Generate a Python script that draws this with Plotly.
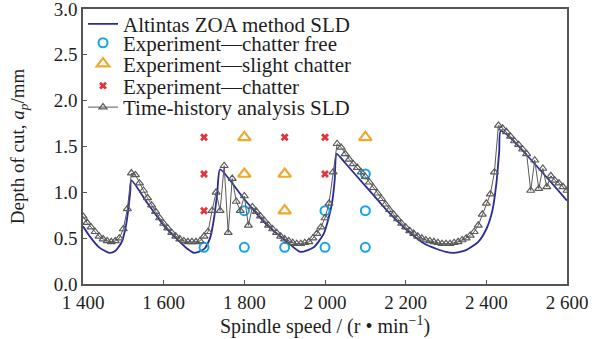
import plotly.graph_objects as go

# ---- data ----
zoa_speed = [1400, 1420, 1440, 1465, 1480, 1495, 1505, 1512, 1517, 1520,
             1560, 1600, 1640, 1660, 1675, 1700, 1715, 1725, 1733, 1740,
             1799, 1857, 1906, 1939, 1972, 1997, 2009, 2018, 2024, 2029,
             2050, 2100, 2150, 2200, 2250, 2300, 2320, 2350, 2380, 2400,
             2415, 2425, 2432, 2436, 2600]
zoa_depth = [0.63, 0.50, 0.40, 0.34, 0.36, 0.45, 0.60, 0.80, 1.00, 1.13,
             0.88, 0.64, 0.46, 0.38, 0.34, 0.38, 0.50, 0.72, 1.00, 1.25,
             0.93, 0.64, 0.46, 0.35, 0.40, 0.55, 0.72, 0.90, 1.13, 1.42,
             1.32, 1.07, 0.82, 0.60, 0.43, 0.35, 0.34, 0.37, 0.46, 0.60,
             0.80, 1.10, 1.45, 1.67, 0.91]

th_speed = list(range(1400, 2601, 10))
th_depth = [0.74, 0.67, 0.62, 0.57, 0.52, 0.49, 0.47, 0.46, 0.47, 0.50,
            0.60, 0.82, 1.21, 1.19, 1.10, 1.02, 0.94, 0.86, 0.79, 0.72,
            0.66, 0.61, 0.56, 0.52, 0.49, 0.47, 0.46, 0.46, 0.46, 0.47,
            0.52, 0.57, 0.80, 1.00, 0.80, 1.29, 0.56, 1.15, 0.90, 0.80,
            0.96, 0.64, 0.84, 0.79, 0.74, 0.69, 0.64, 0.60, 0.56, 0.52,
            0.49, 0.47, 0.45, 0.44, 0.44, 0.45, 0.46, 0.50, 0.55, 0.62,
            0.72, 0.88, 1.22, 1.53, 1.49, 1.42, 1.36, 1.31, 1.27, 1.22,
            1.17, 1.11, 1.05, 0.99, 0.93, 0.87, 0.81, 0.76, 0.71, 0.66,
            0.62, 0.58, 0.55, 0.52, 0.50, 0.48, 0.47, 0.46, 0.45, 0.44,
            0.44, 0.44, 0.45, 0.46, 0.48, 0.50, 0.53, 0.57, 0.64, 0.76,
            0.88, 0.98, 1.22, 1.73, 1.70, 1.66, 1.61, 1.56, 1.52, 1.47,
            1.42, 1.02, 1.35, 1.04, 1.26, 1.06, 1.18, 1.13, 1.10, 1.06,
            1.02]

free_speed = [1700, 1800, 1800, 1900, 2000, 2000, 2100, 2100, 2100]
free_depth = [0.4, 0.4, 0.8, 0.4, 0.4, 0.8, 0.4, 0.8, 1.2]

slight_speed = [1800, 1800, 1900, 1900, 2100]
slight_depth = [1.2, 1.6, 0.8, 1.2, 1.6]

chatter_speed = [1700, 1700, 1700, 1900, 2000, 2000]
chatter_depth = [0.8, 1.2, 1.6, 1.6, 1.2, 1.6]

x_ticks = [1400, 1600, 1800, 2000, 2200, 2400, 2600]
x_tick_labels = ["1 400", "1 600", "1 800", "2 000", "2 200", "2 400", "2 600"]
y_ticks = [0.0, 0.5, 1.0, 1.5, 2.0, 2.5, 3.0]
y_tick_labels = ["0.0", "0.5", "1.0", "1.5", "2.0", "2.5", "3.0"]

FONT = "Liberation Serif"
TXT = "#1e1e1e"

fig = go.Figure()
fig.add_trace(go.Scatter(x=zoa_speed, y=zoa_depth, mode="lines",
                         line=dict(color="#2b2b96", width=1.8, shape="spline", smoothing=0.6),
                         name="Altintas ZOA method SLD", legend="legend", showlegend=True))
fig.add_trace(go.Scatter(x=free_speed, y=free_depth, mode="markers",
                         marker=dict(symbol="circle-open", size=9, color="#14a5e6",
                                     line=dict(width=2, color="#14a5e6")),
                         name="Experiment—chatter free", legend="legend2"))
fig.add_trace(go.Scatter(x=slight_speed, y=slight_depth, mode="markers",
                         marker=dict(symbol="triangle-up-open", size=11, color="#eea92e",
                                     line=dict(width=2.2, color="#eea92e")),
                         name="Experiment—slight chatter", legend="legend3"))
fig.add_trace(go.Scatter(x=chatter_speed, y=chatter_depth, mode="markers",
                         marker=dict(symbol="x", size=7, color="#e6323c",
                                     line=dict(width=0)),
                         name="Experiment—chatter", legend="legend4"))
fig.add_trace(go.Scatter(x=th_speed, y=th_depth, mode="lines+markers",
                         line=dict(color="#5a5a5a", width=1),
                         marker=dict(symbol="triangle-up-open", size=7, color="#5a5a5a",
                                     line=dict(width=1.2, color="#5a5a5a")),
                         name="Time-history analysis SLD", legend="legend5"))

axis_common = dict(showline=True, linecolor="#555555", linewidth=1.5, mirror=True,
                   ticks="inside", ticklen=4, tickcolor="#555555", showgrid=False,
                   zeroline=False, ticklabeloverflow="allow", automargin=False,
                   tickfont=dict(family=FONT, size=19, color=TXT))

fig.update_xaxes(range=[1400, 2600], tickvals=x_ticks, ticktext=x_tick_labels,
                 title=dict(text="Spindle speed / (r • min<sup>−1</sup>)",
                            font=dict(family=FONT, size=20, color=TXT), standoff=4),
                 **axis_common)
fig.update_yaxes(range=[0, 3.0], tickvals=y_ticks, ticktext=y_tick_labels,
                 title=dict(text="Depth of cut, <i>a</i><sub><i>p</i></sub>/mm",
                            font=dict(family=FONT, size=19, color=TXT), standoff=24),
                 **axis_common)

leg_common = dict(x=0.0, xanchor="left", yanchor="middle",
                  font=dict(family=FONT, size=21, color=TXT),
                  bgcolor="rgba(0,0,0,0)", itemwidth=30)
row_y = [0.945, 0.876, 0.800, 0.720, 0.642]

fig.update_layout(
    width=600, height=339,
    margin=dict(l=83, r=33, t=9, b=55, autoexpand=False),
    showlegend=True,
    plot_bgcolor="white", paper_bgcolor="white",
    legend=dict(y=row_y[0], **leg_common),
    legend2=dict(y=row_y[1], **leg_common),
    legend3=dict(y=row_y[2], **leg_common),
    legend4=dict(y=row_y[3], **leg_common),
    legend5=dict(y=row_y[4], **leg_common),
)

fig.write_html("out.html", config={"displayModeBar": False},
               post_script="document.body.style.margin='0';")
